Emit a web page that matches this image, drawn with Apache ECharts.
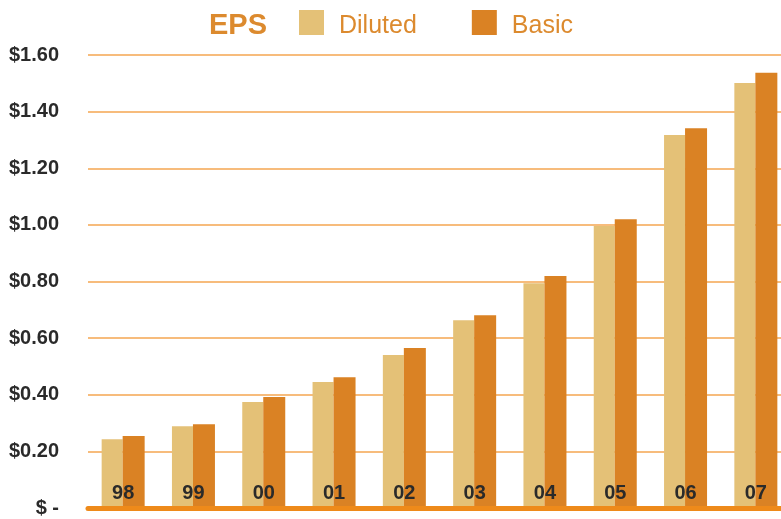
<!DOCTYPE html>
<html><head><meta charset="utf-8">
<script src="https://cdn.jsdelivr.net/npm/echarts@6/dist/echarts.min.js"></script>
<style>html,body{margin:0;padding:0;background:#fff;overflow:hidden;width:781px;height:519px}#c{width:800px;height:519px}</style>
</head><body><div id="c"></div>
<script>
var categories = ['98','99','00','01','02','03','04','05','06','07'];
var diluted = [0.243,0.289,0.374,0.445,0.540,0.663,0.794,0.996,1.317,1.501];
var basic = [0.254,0.296,0.392,0.462,0.565,0.681,0.819,1.020,1.341,1.537];
var yTickLabels = ['$ -','$0.20','$0.40','$0.60','$0.80','$1.00','$1.20','$1.40','$1.60'];

var chart = echarts.init(document.getElementById('c'));
chart.setOption({
  animation:false,
  backgroundColor:'#fff',
  title:{text:'EPS',left:209,top:11,padding:0,textStyle:{fontFamily:'Liberation Sans, Arial',fontWeight:'bold',fontSize:29,color:'#DC8A2E'}},
  legend:{left:299,top:10,padding:0,itemWidth:25,itemHeight:25,itemGap:55,icon:'rect',
    formatter:'{t|{name}}',
    textStyle:{fontFamily:'Liberation Sans, Arial',fontSize:25,color:'#DC8A2E',
      rich:{t:{fontFamily:'Liberation Sans, Arial',fontSize:25,color:'#DC8A2E',padding:[7,0,0,10]}}},
    data:['Diluted','Basic']},
  grid:{left:88,width:703,top:55,bottom:11},
  xAxis:{type:'category',data:categories,
    axisLine:{lineStyle:{color:'#EE8A1A',width:5}},axisTick:{show:false},
    axisLabel:{inside:true,margin:5,fontFamily:'Liberation Sans, Arial',fontWeight:'bold',fontSize:20,color:'#2A2A2A',verticalAlign:'bottom'},
    z:10},
  yAxis:{type:'value',min:0,max:1.6,interval:0.2,
    axisLine:{show:false},axisTick:{show:false},
    splitLine:{lineStyle:{color:'#F4A650',width:1.5}},
    axisLabel:{margin:29,fontFamily:'Liberation Sans, Arial',fontWeight:'bold',fontSize:20,color:'#2A2A2A',
      formatter:function(v){return yTickLabels[Math.round(v/0.2)];}}},
  series:[
    {name:'Diluted',type:'bar',data:diluted,barWidth:21,barGap:'0%',itemStyle:{color:'#E4C177'}},
    {name:'Basic',type:'bar',data:basic,barWidth:22,barGap:'0%',itemStyle:{color:'#DA8224'}}
  ]
});
</script></body></html>
